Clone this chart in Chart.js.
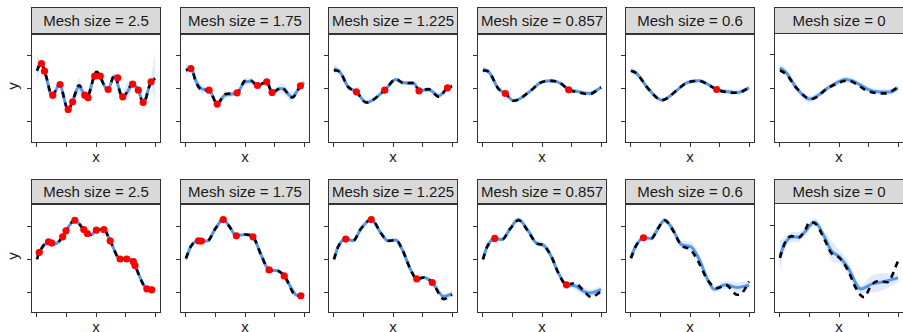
<!DOCTYPE html>
<html>
<head>
<meta charset="utf-8">
<script src="https://cdn.jsdelivr.net/npm/chart.js@4.4.1/dist/chart.umd.min.js"></script>
<style>
body { margin: 0; background: #fff; font-family: "Liberation Sans", Arial, sans-serif; }
#wrap { position: relative; width: 903px; height: 332px; overflow: hidden; }
.strip { position: absolute; box-sizing: border-box; border: 1px solid #333; background: #d9d9d9;
         color: #1a1a1a; font-size: 15px; text-align: center; white-space: nowrap; }
.lab { position: absolute; font-size: 15px; color: #1a1a1a; transform: translate(-50%, -50%); }
canvas { position: absolute; }
</style>
</head>
<body>
<div id="wrap"></div>
<script>
const meshSizes = ['2.5', '1.75', '1.225', '0.857', '0.6', '0'];
const xTicks = [0, 0.25, 0.5, 0.75, 1];
const yTicks = [-1, 0, 1];

// true function, [x, y], one list per panel
const truthTop = [
  [[0,0.53],[0.035,0.77],[0.07,0.47],[0.13,-0.21],[0.19,0.13],[0.265,-0.64],[0.30,-0.40],[0.357,0.10],[0.42,-0.29],[0.505,0.50],[0.60,-0.05],[0.655,0.40],[0.725,-0.27],[0.81,0.14],[0.858,-0.05],[0.90,-0.44],[0.965,0.20],[1.0,0.30]],
  [[0,0.55],[0.042,0.60],[0.09,0.15],[0.14,-0.05],[0.196,-0.05],[0.265,-0.47],[0.33,-0.17],[0.433,-0.13],[0.50,0.23],[0.55,0.24],[0.606,0.09],[0.684,0.20],[0.729,-0.12],[0.81,0.03],[0.90,-0.27],[0.969,0.08],[1.0,0.20]],
  [[0,0.55],[0.05,0.50],[0.12,0.05],[0.19,-0.10],[0.274,-0.42],[0.43,-0.05],[0.525,0.28],[0.59,0.16],[0.68,0.17],[0.72,-0.07],[0.80,-0.02],[0.888,-0.25],[0.961,0.02],[1.0,0.07]],
  [[0,0.55],[0.05,0.50],[0.13,0.0],[0.19,-0.15],[0.26,-0.37],[0.41,-0.05],[0.483,0.17],[0.58,0.23],[0.66,0.15],[0.726,-0.04],[0.79,-0.10],[0.90,-0.17],[1.0,0.03]],
  [[0,0.53],[0.05,0.45],[0.145,0.0],[0.263,-0.35],[0.39,-0.05],[0.46,0.15],[0.578,0.23],[0.66,0.10],[0.726,-0.03],[0.79,-0.10],[0.90,-0.13],[1.0,0.02]],
  [[0,0.53],[0.056,0.40],[0.14,0.0],[0.265,-0.33],[0.42,0.03],[0.58,0.22],[0.64,0.13],[0.73,-0.07],[0.81,-0.15],[0.89,-0.16],[1.0,0.02]]
];
// fitted mean and half width of the band, [x, mean, half]
const fitTop = [
  [[0,0.55,0.45],[0.035,0.76,0.06],[0.07,0.46,0.08],[0.13,-0.25,0.12],[0.19,0.12,0.06],[0.265,-0.64,0.06],[0.30,-0.40,0.06],[0.357,0.06,0.25],[0.38,-0.05,0.2],[0.42,-0.27,0.07],[0.505,0.48,0.08],[0.60,-0.04,0.08],[0.655,0.37,0.1],[0.725,-0.27,0.07],[0.765,-0.10,0.3],[0.81,0.12,0.1],[0.858,-0.05,0.06],[0.90,-0.42,0.08],[0.965,0.20,0.1],[1.0,0.30,0.8]],
  [[0,0.55,0.2],[0.042,0.60,0.05],[0.09,0.18,0.15],[0.14,-0.02,0.12],[0.196,-0.05,0.05],[0.265,-0.45,0.06],[0.33,-0.20,0.12],[0.433,-0.13,0.05],[0.50,0.20,0.1],[0.55,0.22,0.1],[0.606,0.09,0.05],[0.684,0.20,0.05],[0.729,-0.10,0.06],[0.81,0.0,0.15],[0.90,-0.25,0.15],[0.969,0.08,0.05],[1.0,0.18,0.15]],
  [[0,0.60,0.15],[0.05,0.50,0.1],[0.12,0.05,0.08],[0.19,-0.10,0.05],[0.274,-0.42,0.06],[0.43,-0.05,0.05],[0.525,0.27,0.07],[0.59,0.17,0.07],[0.68,0.15,0.07],[0.72,-0.07,0.05],[0.80,-0.03,0.07],[0.888,-0.22,0.07],[0.961,0.02,0.05],[1.0,0.07,0.08]],
  [[0,0.57,0.12],[0.05,0.50,0.08],[0.13,0.0,0.06],[0.19,-0.15,0.04],[0.26,-0.37,0.05],[0.41,-0.05,0.05],[0.483,0.17,0.05],[0.58,0.23,0.06],[0.66,0.15,0.05],[0.726,-0.04,0.04],[0.79,-0.08,0.06],[0.90,-0.15,0.07],[1.0,0.03,0.06]],
  [[0,0.55,0.12],[0.05,0.45,0.08],[0.145,0.0,0.06],[0.263,-0.35,0.05],[0.39,-0.05,0.05],[0.46,0.15,0.06],[0.578,0.23,0.06],[0.66,0.11,0.05],[0.726,-0.03,0.04],[0.79,-0.08,0.07],[0.90,-0.12,0.08],[1.0,0.02,0.07]],
  [[0,0.60,0.12],[0.056,0.45,0.1],[0.14,0.0,0.1],[0.25,-0.33,0.1],[0.42,0.03,0.08],[0.56,0.25,0.09],[0.64,0.17,0.08],[0.75,-0.05,0.08],[0.85,-0.12,0.08],[0.93,-0.12,0.09],[1.0,0.0,0.1]]
];
const obsTop = [
  [[0.039,0.75],[0.064,0.52],[0.134,-0.20],[0.196,0.12],[0.265,-0.63],[0.302,-0.40],[0.405,-0.20],[0.433,-0.28],[0.489,0.37],[0.536,0.37],[0.603,-0.03],[0.684,0.32],[0.726,-0.25],[0.810,0.13],[0.858,-0.05],[0.899,-0.42],[0.966,0.20]],
  [[0.042,0.60],[0.196,-0.05],[0.265,-0.47],[0.433,-0.13],[0.606,0.09],[0.684,0.20],[0.729,-0.12],[0.969,0.08]],
  [[0.19,-0.10],[0.43,-0.05],[0.72,-0.07],[0.961,0.02]],
  [[0.19,-0.15],[0.726,-0.04]],
  [[0.726,-0.03]],
  []
];

const truthBottom = [
  [[0,0.0],[0.02,0.21],[0.098,0.53],[0.155,0.47],[0.218,0.68],[0.246,0.86],[0.321,1.18],[0.397,0.90],[0.46,0.74],[0.503,0.88],[0.567,0.90],[0.62,0.56],[0.704,0.01],[0.76,0.01],[0.816,-0.07],[0.83,-0.19],[0.93,-0.89],[0.98,-0.92]],
  [[0,0.03],[0.04,0.38],[0.106,0.56],[0.131,0.55],[0.18,0.55],[0.25,0.93],[0.316,1.2],[0.37,0.98],[0.427,0.71],[0.50,0.75],[0.567,0.68],[0.64,0.10],[0.704,-0.32],[0.77,-0.34],[0.832,-0.50],[0.935,-1.10],[0.972,-1.10],[1.0,-1.06]],
  [[0,0.0],[0.036,0.38],[0.10,0.61],[0.162,0.56],[0.23,0.93],[0.316,1.2],[0.40,0.78],[0.455,0.56],[0.525,0.58],[0.58,0.28],[0.65,-0.32],[0.701,-0.59],[0.762,-0.55],[0.832,-0.70],[0.93,-1.20],[1.0,-1.07]],
  [[0,0.0],[0.036,0.38],[0.10,0.63],[0.162,0.60],[0.232,0.93],[0.302,1.18],[0.385,0.83],[0.455,0.48],[0.511,0.43],[0.58,0.08],[0.637,-0.40],[0.707,-0.77],[0.777,-0.72],[0.846,-0.92],[0.916,-1.14],[1.0,-0.97]],
  [[0,0.03],[0.039,0.38],[0.106,0.65],[0.173,0.63],[0.229,0.93],[0.285,1.18],[0.355,0.88],[0.425,0.43],[0.508,0.28],[0.578,-0.12],[0.648,-0.62],[0.732,-0.87],[0.802,-0.77],[0.899,-1.07],[0.94,-1.02],[1.0,-0.67]],
  [[0,0.03],[0.042,0.48],[0.098,0.68],[0.154,0.63],[0.21,0.83],[0.251,1.10],[0.307,1.03],[0.377,0.58],[0.433,0.18],[0.503,0.03],[0.573,-0.32],[0.642,-0.87],[0.712,-1.15],[0.768,-0.82],[0.824,-0.67],[0.908,-0.70],[1.0,-0.07]]
];
const fitBottom = [
  [[0,0.10,0.1],[0.02,0.21,0.05],[0.098,0.53,0.04],[0.155,0.47,0.05],[0.218,0.68,0.04],[0.246,0.86,0.04],[0.321,1.18,0.04],[0.397,0.90,0.04],[0.46,0.74,0.05],[0.503,0.88,0.04],[0.567,0.90,0.04],[0.62,0.56,0.04],[0.704,0.01,0.04],[0.76,0.01,0.04],[0.816,-0.07,0.04],[0.83,-0.19,0.04],[0.93,-0.89,0.04],[0.98,-0.92,0.05]],
  [[0,0.0,0.15],[0.04,0.38,0.08],[0.106,0.56,0.04],[0.131,0.55,0.04],[0.18,0.55,0.06],[0.25,0.93,0.06],[0.316,1.2,0.04],[0.37,0.98,0.06],[0.427,0.71,0.04],[0.50,0.75,0.05],[0.567,0.68,0.04],[0.64,0.10,0.06],[0.704,-0.32,0.04],[0.77,-0.34,0.05],[0.832,-0.50,0.04],[0.935,-1.08,0.06],[0.972,-1.10,0.04],[1.0,-1.06,0.06]],
  [[0,0.0,0.15],[0.036,0.38,0.08],[0.10,0.61,0.04],[0.162,0.56,0.06],[0.23,0.93,0.06],[0.316,1.2,0.04],[0.40,0.78,0.06],[0.455,0.56,0.06],[0.525,0.58,0.06],[0.58,0.28,0.06],[0.65,-0.32,0.06],[0.701,-0.59,0.04],[0.762,-0.55,0.05],[0.832,-0.70,0.04],[0.93,-1.12,0.07],[1.0,-1.04,0.08]],
  [[0,0.0,0.15],[0.036,0.38,0.1],[0.10,0.63,0.04],[0.162,0.60,0.06],[0.232,0.93,0.06],[0.30,1.2,0.07],[0.385,0.85,0.08],[0.455,0.48,0.08],[0.511,0.43,0.1],[0.58,0.08,0.1],[0.637,-0.40,0.08],[0.707,-0.77,0.04],[0.777,-0.80,0.1],[0.846,-0.95,0.12],[0.90,-1.02,0.12],[1.0,-0.92,0.1]],
  [[0,0.05,0.2],[0.039,0.38,0.1],[0.106,0.65,0.04],[0.173,0.63,0.08],[0.229,0.93,0.08],[0.285,1.18,0.08],[0.355,0.90,0.1],[0.425,0.45,0.12],[0.508,0.38,0.15],[0.578,0.0,0.15],[0.648,-0.60,0.12],[0.705,-0.90,0.1],[0.80,-0.77,0.12],[0.899,-0.85,0.15],[1.0,-0.78,0.12]],
  [[0,0.10,0.45],[0.042,0.45,0.2],[0.098,0.65,0.15],[0.154,0.65,0.15],[0.21,0.80,0.12],[0.293,1.10,0.12],[0.377,0.65,0.15],[0.433,0.25,0.3],[0.503,0.06,0.2],[0.573,-0.25,0.2],[0.684,-0.90,0.12],[0.78,-0.75,0.25],[0.88,-0.68,0.25],[1.0,-0.57,0.12]]
];
const obsBottom = [
  [[0.02,0.21],[0.098,0.53],[0.126,0.49],[0.218,0.68],[0.246,0.86],[0.321,1.18],[0.397,0.90],[0.427,0.78],[0.503,0.88],[0.567,0.90],[0.62,0.56],[0.704,0.01],[0.76,0.01],[0.816,-0.07],[0.83,-0.19],[0.93,-0.89],[0.972,-0.92]],
  [[0.106,0.56],[0.131,0.55],[0.316,1.2],[0.427,0.71],[0.567,0.68],[0.704,-0.32],[0.832,-0.50],[0.972,-1.10]],
  [[0.10,0.61],[0.316,1.2],[0.701,-0.59],[0.832,-0.70]],
  [[0.10,0.63],[0.707,-0.77]],
  [[0.106,0.65]],
  []
];

const rows = [
  { truth: truthTop, fit: fitTop, obs: obsTop, stripTop: 7, plotTop: 33, yMin: -1.64, yMax: 1.64, xLab: 156 },
  { truth: truthBottom, fit: fitBottom, obs: obsBottom, stripTop: 179, plotTop: 203, yMin: -1.62, yMax: 1.67, xLab: 326 }
];

const wrap = document.getElementById('wrap');
const plotW = 130, plotH = 110;

const boxPlugin = {
  id: 'box',
  afterDatasetsDraw(chart) {
    const a = chart.chartArea, ctx = chart.ctx;
    ctx.save();
    ctx.strokeStyle = '#333';
    ctx.lineWidth = 1;
    ctx.strokeRect(a.left + 0.5, a.top + 0.5, a.right - a.left - 1, a.bottom - a.top - 1);
    ctx.restore();
  }
};

function pts(list) { return list.map(p => ({ x: p[0], y: p[1] })); }

rows.forEach((row, r) => {
  for (let c = 0; c < 6; c++) {
    const left = Math.round(31 + 148.5 * c);

    const strip = document.createElement('div');
    strip.className = 'strip';
    strip.style.left = left + 'px';
    strip.style.top = row.stripTop + 'px';
    strip.style.width = plotW + 'px';
    strip.style.height = (row.plotTop - row.stripTop + 1) + 'px';
    strip.style.lineHeight = (row.plotTop - row.stripTop - 1) + 'px';
    strip.textContent = 'Mesh size = ' + meshSizes[c];
    wrap.appendChild(strip);

    const xl = document.createElement('div');
    xl.className = 'lab';
    xl.style.left = (left + plotW / 2) + 'px';
    xl.style.top = row.xLab + 'px';
    xl.textContent = 'x';
    wrap.appendChild(xl);

    if (c === 0) {
      const yl = document.createElement('div');
      yl.className = 'lab';
      yl.style.left = '12px';
      yl.style.top = (row.plotTop + plotH / 2 - 2) + 'px';
      yl.style.transform = 'translate(-50%, -50%) rotate(-90deg)';
      yl.textContent = 'y';
      wrap.appendChild(yl);
    }

    const cv = document.createElement('canvas');
    cv.width = plotW + 14;
    cv.height = plotH + 10;
    cv.style.left = (left - 10) + 'px';
    cv.style.top = (row.plotTop - 3) + 'px';
    wrap.appendChild(cv);

    const fit = row.fit[c];
    new Chart(cv.getContext('2d'), {
      type: 'line',
      data: {
        datasets: [
          { data: pts(row.obs[c]), showLine: false, pointRadius: 3.6, pointBackgroundColor: '#ff0000',
            pointBorderWidth: 0, order: 0 },
          { data: pts(row.truth[c]), borderColor: '#000', borderWidth: 2.6, borderDash: [6, 5],
            pointRadius: 0, cubicInterpolationMode: 'monotone', order: 1 },
          { data: fit.map(f => ({ x: f[0], y: f[1] })), borderColor: '#5597ee', borderWidth: 3,
            pointRadius: 0, cubicInterpolationMode: 'monotone', order: 2 },
          { data: fit.map(f => ({ x: f[0], y: f[1] + f[2] })), borderWidth: 0, pointRadius: 0,
            backgroundColor: 'rgba(95,155,245,0.2)', fill: '+1', cubicInterpolationMode: 'monotone', order: 3 },
          { data: fit.map(f => ({ x: f[0], y: f[1] - f[2] })), borderWidth: 0, pointRadius: 0,
            fill: false, cubicInterpolationMode: 'monotone', order: 4 }
        ]
      },
      options: {
        responsive: false,
        animation: false,
        devicePixelRatio: 1,
        layout: { padding: { left: 6, top: 3, right: 4, bottom: 3 } },
        plugins: { legend: { display: false }, tooltip: { enabled: false } },
        scales: {
          x: {
            type: 'linear', min: -0.05, max: 1.05,
            afterBuildTicks: s => { s.ticks = xTicks.map(v => ({ value: v })); },
            ticks: { display: false },
            grid: { drawOnChartArea: false, drawTicks: true, tickLength: 4, color: '#333', lineWidth: 1 },
            border: { display: false }
          },
          y: {
            type: 'linear', min: row.yMin, max: row.yMax,
            afterBuildTicks: s => { s.ticks = yTicks.map(v => ({ value: v })); },
            ticks: { display: false },
            grid: { drawOnChartArea: false, drawTicks: true, tickLength: 4, color: '#333', lineWidth: 1 },
            border: { display: false }
          }
        }
      },
      plugins: [boxPlugin]
    });
  }
});
</script>
</body>
</html>
